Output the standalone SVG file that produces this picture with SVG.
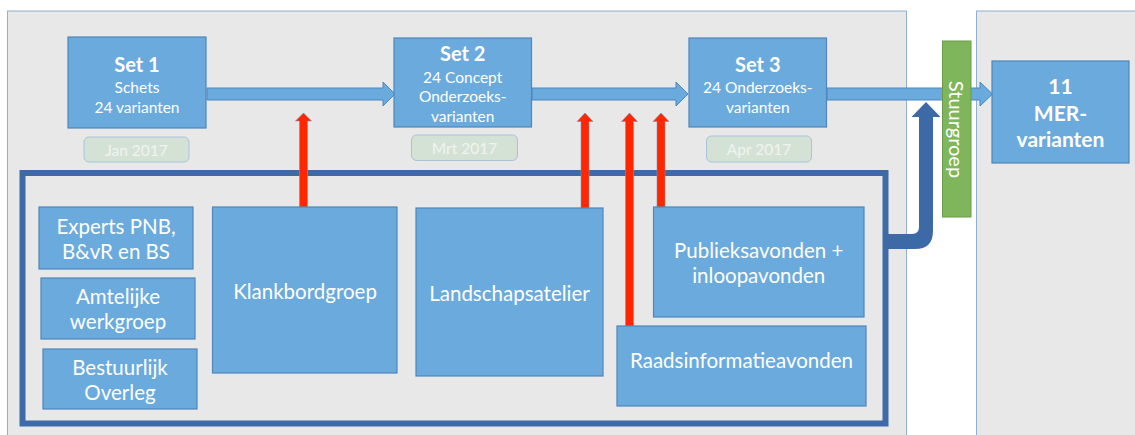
<svg xmlns="http://www.w3.org/2000/svg" width="1135" height="435" viewBox="0 0 1135 435">
<style>
.panel{fill:#e8e8e8;stroke:#8fb0d2;stroke-width:1}
.box{fill:#6aaadd;stroke:#4f86bc;stroke-width:1.2}
.pill{fill:#d4e2d6;stroke:#a6c4dc;stroke-width:1}
.t{font-family:Lato,"Liberation Sans",sans-serif;fill:#ffffff;text-anchor:middle}
.b{font-weight:bold}
.s{font-size:15.5px}
.m{font-size:20.5px}
.h{font-size:20px}
.mer{font-size:21px}
.pt{font-family:Lato,"Liberation Sans",sans-serif;fill:#f0f4f0;text-anchor:middle;font-size:15.5px}
.la{fill:#6aaadd;stroke:#4a86c0;stroke-width:1}
.red{fill:#ff2600;stroke:#7f90b4;stroke-width:0.6}
</style>
<rect x="0" y="0" width="1135" height="435" fill="#ffffff"/>
<rect class="panel" x="7.5" y="11" width="899" height="430"/>
<rect class="panel" x="976.5" y="11" width="170" height="430"/>
<rect x="22.5" y="173" width="863" height="250.5" fill="none" stroke="#3e6ba8" stroke-width="6"/>

<g id="connectors">
<path class="la" d="M207 88 H383 V82 L395 94 L383 106 V100 H207 Z"/>
<path class="la" d="M532 88 H676 V82 L688 94 L676 106 V100 H532 Z"/>
<path class="la" d="M827 88 H980 V82 L992.5 94 L980 106 V100 H827 Z"/>
<path class="red" d="M299.5 207 V121 H295.5 L303.5 113 L311.5 121 H307.5 V207 Z"/>
<path class="red" d="M581 208 V121.5 H577 L585 113 L593 121.5 H589 V208 Z"/>
<path class="red" d="M625.5 326 V121.5 H621.5 L629.5 113 L637.5 121.5 H633.5 V326 Z"/>
<path class="red" d="M657 207 V121.5 H653 L661 113 L669 121.5 H665 V207 Z"/>
<path d="M885 234 H912 Q919 234 919 227 V117 H911.5 L926 102 L940.5 117 H933 V231 Q933 249 915 249 H885 Z" fill="#3d6aa7"/>
</g>

<g id="set1">
<rect class="box" x="68" y="37" width="138" height="91"/>
<text class="t b h" x="137" y="72">Set 1</text>
<text class="t s" x="137" y="93">Schets</text>
<text class="t s" x="137" y="113">24 varianten</text>
</g>
<g id="jan">
<rect class="pill" x="84" y="137" width="105" height="25" rx="5"/>
<text class="pt" x="136.5" y="155.5">Jan 2017</text>
</g>
<g id="set2">
<rect class="box" x="394" y="38" width="137.5" height="89"/>
<text class="t b h" x="462.7" y="61">Set 2</text>
<text class="t s" x="462.7" y="82.5">24 Concept</text>
<text class="t s" x="462.7" y="101.5">Onderzoeks-</text>
<text class="t s" x="462.7" y="121.5">varianten</text>
</g>
<g id="mrt">
<rect class="pill" x="411.5" y="135" width="106" height="25.5" rx="5"/>
<text class="pt" x="464.5" y="154">Mrt 2017</text>
</g>
<g id="set3">
<rect class="box" x="689" y="38" width="137.5" height="89"/>
<text class="t b h" x="757.8" y="72">Set 3</text>
<text class="t s" x="757.8" y="92.5">24 Onderzoeks-</text>
<text class="t s" x="757.8" y="112.5">varianten</text>
</g>
<g id="apr">
<rect class="pill" x="706.5" y="136" width="105" height="26" rx="5"/>
<text class="pt" x="759" y="155">Apr 2017</text>
</g>
<g id="stuurgroep">
<rect x="942.5" y="41" width="28.5" height="176" fill="#7fb55b" stroke="#6b9c4a" stroke-width="1"/>
<text class="t" transform="translate(949 129.5) rotate(90)" x="0" y="0" style="font-size:20px">Stuurgroep</text>
</g>
<g id="mer">
<rect class="box" x="992" y="61" width="137" height="102"/>
<text class="t b mer" x="1060.5" y="94">11</text>
<text class="t b mer" x="1060.5" y="121">MER-</text>
<text class="t b mer" x="1060.5" y="147">varianten</text>
</g>

<g id="experts">
<rect class="box" x="39" y="207" width="154" height="62"/>
<text class="t m" x="116" y="234">Experts PNB,</text>
<text class="t m" x="116" y="259">B&amp;vR en BS</text>
</g>
<g id="amtelijke">
<rect class="box" x="41" y="278" width="154" height="61"/>
<text class="t m" x="118" y="304">Amtelijke</text>
<text class="t m" x="118" y="329">werkgroep</text>
</g>
<g id="bestuurlijk">
<rect class="box" x="43" y="349" width="154" height="60"/>
<text class="t m" x="120" y="375">Bestuurlijk</text>
<text class="t m" x="120" y="400">Overleg</text>
</g>
<g id="klankbordgroep">
<rect class="box" x="212.5" y="207" width="184.5" height="166"/>
<text class="t m" x="305" y="299">Klankbordgroep</text>
</g>
<g id="landschapsatelier">
<rect class="box" x="416" y="208" width="187" height="168"/>
<text class="t m" x="509.5" y="300.5">Landschapsatelier</text>
</g>
<g id="publieksavonden">
<rect class="box" x="653.5" y="207" width="210.5" height="110"/>
<text class="t m" x="758.7" y="258">Publieksavonden +</text>
<text class="t m" x="758.7" y="283">inloopavonden</text>
</g>
<g id="raadsinformatieavonden">
<rect class="box" x="617" y="326" width="249" height="80"/>
<text class="t m" x="741.5" y="368">Raadsinformatieavonden</text>
</g>
</svg>
